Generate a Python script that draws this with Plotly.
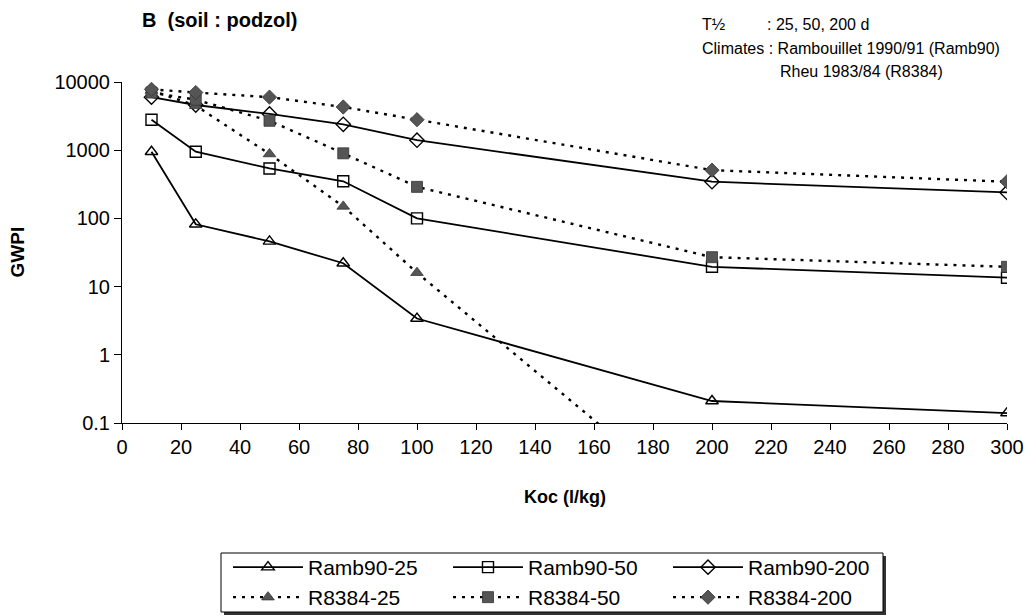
import plotly.graph_objects as go

# ---- data ----
koc = [10, 25, 50, 75, 100, 200, 300]
ramb90_25 = [950, 82, 46, 22, 3.4, 0.21, 0.14]
ramb90_50 = [2800, 950, 540, 350, 100, 19.5, 13.5]
ramb90_200 = [6000, 4600, 3400, 2400, 1400, 345, 240]
r8384_25 = [7500, 4500, 880, 150, 16, 0.004, 0.0002]
r8384_50 = [7000, 5500, 2700, 900, 290, 27, 19.5]
r8384_200 = [7800, 7000, 6000, 4300, 2800, 510, 345]

series_names = ["Ramb90-25", "Ramb90-50", "Ramb90-200", "R8384-25", "R8384-50", "R8384-200"]
x_ticks = list(range(0, 301, 20))
y_tickvals = [0.1, 1, 10, 100, 1000, 10000]
y_ticktext = ["0.1", "1", "10", "100", "1000", "10000"]

# ---- geometry ----
W, H = 1036, 616
L, R, T, B = 122, 29, 82, 193
PW, PH = W - L - R, H - T - B


def px_x(X):
    return (X - L) / PW


def px_y(Y):
    return (H - B - Y) / PH


FONT = "Liberation Sans, Arial, Helvetica, sans-serif"

fig = go.Figure()

styles = [
    dict(symbol="triangle-up-open", dash="solid", fill="black", legend="legend"),
    dict(symbol="square-open", dash="solid", fill="black", legend="legend"),
    dict(symbol="diamond-open", dash="solid", fill="black", legend="legend"),
    dict(symbol="triangle-up", dash="3px,6px", fill="#555555", legend="legend2"),
    dict(symbol="square", dash="3px,6px", fill="#555555", legend="legend2"),
    dict(symbol="diamond", dash="3px,6px", fill="#555555", legend="legend2"),
]
data = [ramb90_25, ramb90_50, ramb90_200, r8384_25, r8384_50, r8384_200]

for name, ys, st in zip(series_names, data, styles):
    solid = st["dash"] == "solid"
    fig.add_trace(go.Scatter(
        x=koc, y=ys, name=name, mode="lines+markers", legend=st["legend"],
        line=dict(color="black", width=1.8 if solid else 2.4, dash=st["dash"]),
        marker=dict(symbol=st["symbol"], size=11, color=st["fill"],
                    line=dict(color="black" if solid else "#333333", width=1.4 if solid else 0.8)),
        cliponaxis=True,
    ))

legend_common = dict(
    orientation="h", xref="container", yref="container",
    x=228 / W, xanchor="left", yanchor="top",
    bgcolor="rgba(0,0,0,0)", borderwidth=0,
    font=dict(size=21, family=FONT),
    entrywidth=135, entrywidthmode="pixels", itemwidth=70,
    traceorder="normal", tracegroupgap=0,
)

fig.update_layout(
    width=W, height=H,
    margin=dict(l=L, r=R, t=T, b=B, pad=0, autoexpand=False),
    paper_bgcolor="white", plot_bgcolor="white",
    font=dict(family=FONT, size=20, color="black"),
    showlegend=True,
    legend=dict(y=(H - 547) / H, **legend_common),
    legend2=dict(y=(H - 577) / H, **legend_common),
    xaxis=dict(
        range=[0, 300], tickvals=x_ticks, ticktext=[str(v) for v in x_ticks],
        showgrid=False, zeroline=False, showline=True, linecolor="black", linewidth=1,
        ticks="outside", ticklen=6, tickcolor="black", tickfont=dict(size=20),
    ),
    yaxis=dict(
        type="log", range=[-1, 4], tickvals=y_tickvals, ticktext=y_ticktext,
        showgrid=False, zeroline=False, showline=True, linecolor="black", linewidth=1,
        ticks="outside", ticklen=7, tickcolor="black", tickfont=dict(size=20),
    ),
)

# legend frame with shadow
fig.add_shape(type="rect", xref="paper", yref="paper",
              x0=px_x(224), x1=px_x(886), y0=px_y(615), y1=px_y(556),
              fillcolor="#333333", line=dict(width=0), layer="above")
fig.add_shape(type="rect", xref="paper", yref="paper",
              x0=px_x(221), x1=px_x(883), y0=px_y(612), y1=px_y(553),
              fillcolor="white", line=dict(color="black", width=1), layer="above")

ann = [
    dict(text="<b>B\u00a0\u00a0(soil : podzol)</b>", x=px_x(140), y=px_y(20), xanchor="left", yanchor="middle", font=dict(size=20)),
    dict(text="<b>Koc (l/kg)</b>", x=0.5, y=px_y(497), xanchor="center", yanchor="middle", font=dict(size=18)),
    dict(text="<b>GWPI</b>", x=px_x(17), y=0.5, xanchor="center", yanchor="middle", textangle=-90, font=dict(size=19)),
    dict(text="T½", x=px_x(700), y=px_y(25), xanchor="left", yanchor="middle", font=dict(size=16)),
    dict(text=": 25, 50, 200 d", x=px_x(765), y=px_y(25), xanchor="left", yanchor="middle", font=dict(size=16)),
    dict(text="Climates : Rambouillet 1990/91 (Ramb90)", x=px_x(700), y=px_y(48), xanchor="left", yanchor="middle", font=dict(size=16)),
    dict(text="Rheu 1983/84 (R8384)", x=px_x(778), y=px_y(71), xanchor="left", yanchor="middle", font=dict(size=16)),
]
for a in ann:
    fig.add_annotation(xref="paper", yref="paper", showarrow=False, **a)

fig.write_html("out.html")
